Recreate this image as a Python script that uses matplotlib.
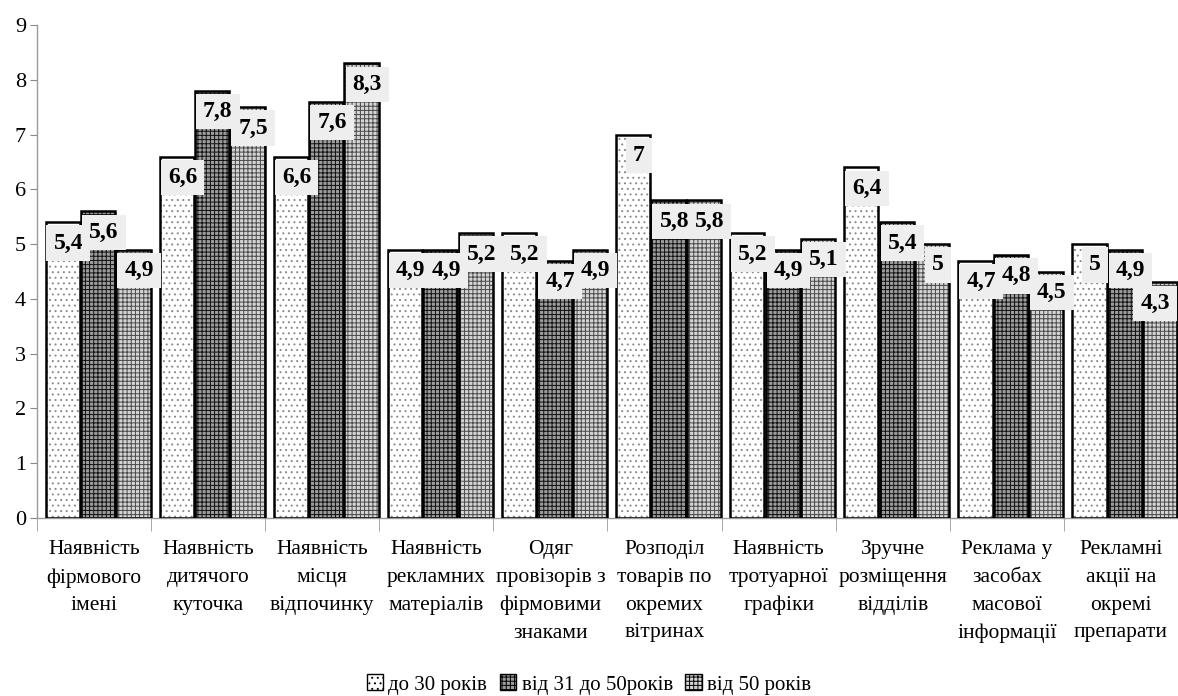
import matplotlib.pyplot as plt
import numpy as np
from matplotlib.patches import Patch

plt.rcParams['font.family'] = ['Liberation Serif', 'DejaVu Serif']
plt.rcParams['hatch.linewidth'] = 0.7

categories = [
    "Наявність\nфірмового\nімені",
    "Наявність\nдитячого\nкуточка",
    "Наявність\nмісця\nвідпочинку",
    "Наявність\nрекламних\nматеріалів",
    "Одяг\nпровізорів з\nфірмовими\nзнаками",
    "Розподіл\nтоварів по\nокремих\nвітринах",
    "Наявність\nтротуарної\nграфіки",
    "Зручне\nрозміщення\nвідділів",
    "Реклама у\nзасобах\nмасової\nінформації",
    "Рекламні\nакції на\nокремі\nпрепарати",
]
series_names = ["до 30 років", "від 31 до 50років", "від 50 років"]
under_30 = [5.4, 6.6, 6.6, 4.9, 5.2, 7.0, 5.2, 6.4, 4.7, 5.0]
from_31_to_50 = [5.6, 7.8, 7.6, 4.9, 4.7, 5.8, 4.9, 5.4, 4.8, 4.9]
over_50 = [4.9, 7.5, 8.3, 5.2, 4.9, 5.8, 5.1, 5.0, 4.5, 4.3]

# face colour, hatch colour, hatch pattern for each age group
styles = [
    ("white", "#8a8a8a", "..."),
    ("#9c9c9c", "#111111", "++++"),
    ("#d4d4d4", "#4a4a4a", "++++"),
]
offsets = [-0.275, 0.035, 0.345]
width = 0.3

fig = plt.figure(figsize=(11.78, 6.96), dpi=100)
ax = fig.add_axes([0.0314, 0.2557, 0.9686, 0.7083])

x = np.arange(len(categories))
for vals, (face, hcol, hatch), off in zip([under_30, from_31_to_50, over_50], styles, offsets):
    ax.bar(x + off, vals, width, color=face, edgecolor=hcol, hatch=hatch, linewidth=0, zorder=2)
    ax.bar(x + off, vals, width, fill=False, edgecolor="black", linewidth=1.8, zorder=3)
    for xi, v in zip(x + off, vals):
        # keep the rightmost label inside the figure
        lx = min(xi + 0.05, len(categories) - 0.5 - 0.2)
        ax.annotate(f"{v:g}".replace(".", ","), (lx, v), xytext=(0, -15),
                    textcoords="offset points", ha="center", va="center",
                    fontsize=17, fontweight="bold", zorder=4,
                    bbox=dict(boxstyle="square,pad=0.3", fc="#eeeeee", ec="none"))

ax.set_xlim(-0.5, len(categories) - 0.5)
ax.set_ylim(0, 9)
ax.set_yticks(range(0, 10))
ax.tick_params(axis="y", labelsize=16, color="#888888", length=5, pad=3)
ax.set_xticks(x)
ax.set_xticklabels(categories, fontsize=15.5, linespacing=1.62, va="top")
ax.tick_params(axis="x", length=0, pad=16)
ax.set_xticks(np.arange(-0.5, len(categories), 1.0), minor=True)
ax.tick_params(axis="x", which="minor", length=9, color="#999999")

for side in ["top", "right"]:
    ax.spines[side].set_visible(False)
for side in ["left", "bottom"]:
    ax.spines[side].set_color("#999999")
    ax.spines[side].set_linewidth(1)

handles = [Patch(facecolor=face, edgecolor="black", hatch=hatch, linewidth=1)
           for face, hcol, hatch in styles]
fig.legend(handles, series_names, loc="lower center", bbox_to_anchor=(0.5, -0.025),
           ncol=3, frameon=False, fontsize=15, handlelength=0.8, handleheight=0.8,
           handletextpad=0.25, columnspacing=0.6)

fig.savefig("out.png", dpi=100)
